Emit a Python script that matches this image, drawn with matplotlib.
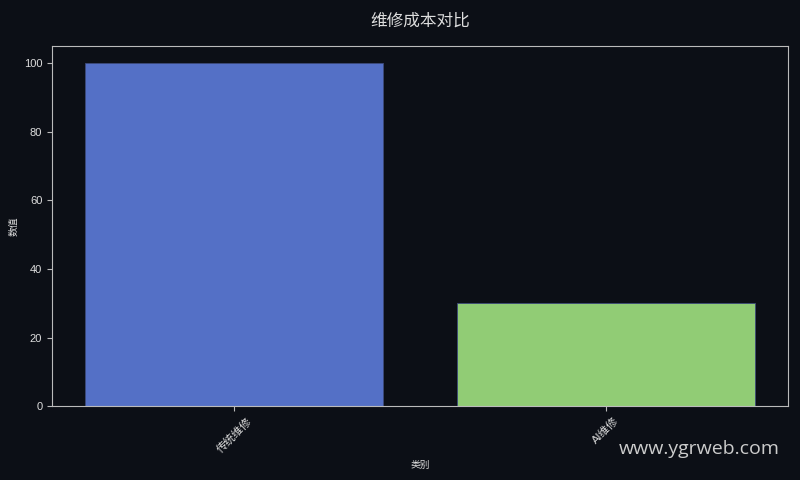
import matplotlib
matplotlib.use("Agg")
import matplotlib.pyplot as plt

# latin glyphs from Liberation Sans, chinese ones fall back to Noto CJK
plt.rcParams['font.family'] = ['Liberation Sans', 'Noto Sans CJK SC', 'DejaVu Sans']

categories = ['传统维修', 'AI维修']
values = [100, 30]
colors = ['#5470c6', '#91cc75']

bg = '#0c0f16'
fg = '#dddddd'

fig = plt.figure(figsize=(8, 4.8), dpi=100, facecolor=bg)
ax = fig.add_axes([0.065, 0.154, 0.92, 0.75], facecolor=bg)

ax.bar(categories, values, width=0.8, color=colors, edgecolor='#3d4a7a', linewidth=0.6)

ax.set_title('维修成本对比', color=fg, fontsize=12, pad=15)
ax.set_xlabel('类别', color=fg, fontsize=7)
ax.set_ylabel('数值', color=fg, fontsize=7)

for s in ax.spines.values():
    s.set_color('#bbbbbb')
ax.tick_params(colors='#bbbbbb', labelcolor=fg, labelsize=8)
plt.setp(ax.get_xticklabels(), rotation=45, ha='center', fontsize=8)

fig.text(0.975, 0.065, 'www.ygrweb.com', color='#cccccc', fontsize=14,
         ha='right', va='center', family=['Open Sans', 'DejaVu Sans'])

fig.savefig('out.png', dpi=100, facecolor=bg)
